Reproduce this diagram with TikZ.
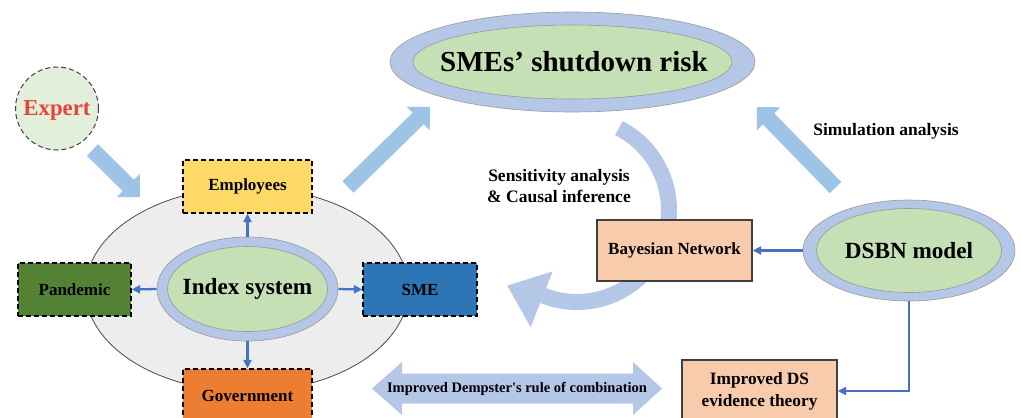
\documentclass[tikz,border=0pt]{standalone}
\usepackage{fontspec}
\setmainfont{Liberation Serif}
\usetikzlibrary{shapes.geometric,arrows.meta,calc}

\definecolor{ringblue}{HTML}{B4C7E7}
\definecolor{coregreen}{HTML}{C5E0B4}
\definecolor{fatblue}{HTML}{9DC3E6}
\definecolor{linkblue}{HTML}{4472C4}
\definecolor{panelgray}{HTML}{EDEDED}
\definecolor{empyellow}{HTML}{FFD966}
\definecolor{pandgreen}{HTML}{548235}
\definecolor{smeblue}{HTML}{2E75B6}
\definecolor{govorange}{HTML}{ED7D31}
\definecolor{peach}{HTML}{F8CBAD}
\definecolor{expertfill}{HTML}{E2EFDA}
\definecolor{expertred}{HTML}{E8443A}

\newcommand{\fBox}{\fontsize{17}{20}\selectfont\bfseries}
\newcommand{\fLab}{\fontsize{17.5}{20.5}\selectfont\bfseries}
\newcommand{\fBig}{\fontsize{23.2}{26}\selectfont\bfseries}
\newcommand{\fRisk}{\fontsize{29}{32}\selectfont\bfseries}
\newcommand{\fExp}{\fontsize{22.8}{26}\selectfont\bfseries}
\newcommand{\fComb}{\fontsize{14.5}{17}\selectfont\bfseries}
\newcommand{\fDS}{\fontsize{17.3}{22}\selectfont\bfseries}

% block arrow: #1 tail, #2 tip, #3 half shaft, #4 half head, #5 head length
\newcommand{\fatarrow}[5]{%
  \coordinate (fa-base) at ($(#2)!#5!(#1)$);
  \fill[fatblue] ($(#1)!#3!90:(#2)$) -- ($(fa-base)!#3!90:(#2)$)
    -- ($(fa-base)!#4!90:(#2)$) -- (#2) -- ($(fa-base)!#4!-90:(#2)$)
    -- ($(fa-base)!#3!-90:(#2)$) -- ($(#1)!#3!-90:(#2)$) -- cycle;}

\tikzset{
  factor/.style={draw=black, dash pattern=on 5pt off 3pt, line width=1.2pt,
    minimum width=129pt, minimum height=53pt, inner sep=0pt, font=\fBox},
  method/.style={draw=black!75, line width=1.3pt, fill=peach,
    minimum width=155pt, inner sep=0pt},
  ring/.style={ellipse, draw=black!40, line width=0.6pt, fill=ringblue, inner sep=0pt},
  core/.style={ellipse, draw=black!40, line width=0.6pt, fill=coregreen, inner sep=0pt},
  link/.style={draw=linkblue, line width=2.3pt, -{Triangle[length=8.5pt,width=8pt]}},
}

\begin{document}
\begin{tikzpicture}[x=1pt,y=-1pt]
\useasboundingbox (0,0) rectangle (1021,418);
\clip (0,0) rectangle (1021,418);
\fill[white] (0,0) rectangle (1021,418);

% index system with its four factors
\node[ellipse, draw=black!70, line width=0.8pt, fill=panelgray,
      minimum width=323pt, minimum height=204pt, inner sep=0pt] (panel) at (247,289.5) {};
\node[ring, minimum width=181pt, minimum height=104pt] (idx) at (247.5,289) {};
\node[core, minimum width=160pt, minimum height=85pt] (idxin) at (idx) {};
\node[font=\fBig] (idxtext) at (idx) {Index system};

\node[factor, fill=empyellow] (emp) at (247.5,186.5) {Employees};
\node[factor, fill=pandgreen, minimum width=113pt] (pan) at (74.5,289.5) {Pandemic};
\node[factor, fill=smeblue, minimum width=114pt] (sme) at (420,289.5) {SME};
\node[factor, fill=govorange] (gov) at (247.5,395.5) {Government};

\draw[link] (idx.north) -- (emp.south);
\draw[link] (idx.west) -- (pan.east);
\draw[link] (idx.east) -- (sme.west);
\draw[link] (idx.south) -- (gov.north);

% expert input
\node[circle, draw=black!75, dash pattern=on 5pt off 3pt, line width=1pt, fill=expertfill,
      minimum size=83pt, inner sep=0pt] (expert) at (57,108.5) {};
\node[font=\fExp, text=expertred, text depth=0pt, inner sep=0pt] (experttext) at (expert) {Expert};

% block arrows
\coordinate (a1t) at (92.5,150);  \coordinate (a1h) at (140,197);
\coordinate (a2t) at (348,187);   \coordinate (a2h) at (430,107);
\coordinate (a3t) at (835.5,187.5); \coordinate (a3h) at (757,107);
\fatarrow{a1t}{a1h}{8pt}{16.5pt}{16.5pt}
\fatarrow{a2t}{a2h}{8pt}{16.5pt}{16.5pt}
\fatarrow{a3t}{a3h}{8pt}{16.5pt}{16.5pt}

% shutdown risk
\node[ring, minimum width=365pt, minimum height=100pt] (risk) at (572.5,62) {};
\node[core, minimum width=319pt, minimum height=74pt] (riskin) at (risk) {};
\node[font=\fRisk] (risktext) at (574,62) {SMEs’ shutdown risk};

% feedback loop
\coordinate (loop) at (577,210);
\draw[ringblue, line width=16pt] ($(loop)+(-62.9:92)$) arc[start angle=-62.9, end angle=111.6, radius=92];
\fill[ringblue] ($(loop)+(111.6:66)$) -- ($(loop)+(111.6:126)$)
  -- ($(loop)+(111.6:96)+(201.6:37)$) -- cycle;

\node[font=\fLab, align=center] (sens) at (559,186) {Sensitivity analysis\\\& Causal inference};
\node[font=\fLab] (sim) at (886,131) {Simulation analysis};

% model side
\node[method, minimum height=61pt, font=\fBox] (bn) at (674.5,250.5) {Bayesian Network};
\node[ring, minimum width=212pt, minimum height=101pt] (dsbn) at (909,250.5) {};
\node[core, minimum width=185pt, minimum height=84pt] (dsbnin) at (dsbn) {};
\node[font=\fBig] (dsbntext) at (dsbn) {DSBN model};
\node[method, minimum height=62pt, font=\fDS, align=center] (ds) at (759.5,391) {Improved DS\\evidence theory};

\draw[link] (dsbn.west) -- (bn.east);
\draw[link] (dsbn.south) |- (ds.east);

% combination rule
\fill[ringblue] (372,388.5) -- (402,362) -- (402,373.5) -- (633,373.5) -- (633,362)
  -- (662,388.5) -- (633,415) -- (633,403.5) -- (402,403.5) -- (402,415) -- cycle;
\node[font=\fComb] (comb) at (517,388.5) {Improved Dempster\textquotesingle s rule of combination};
\end{tikzpicture}
\end{document}
